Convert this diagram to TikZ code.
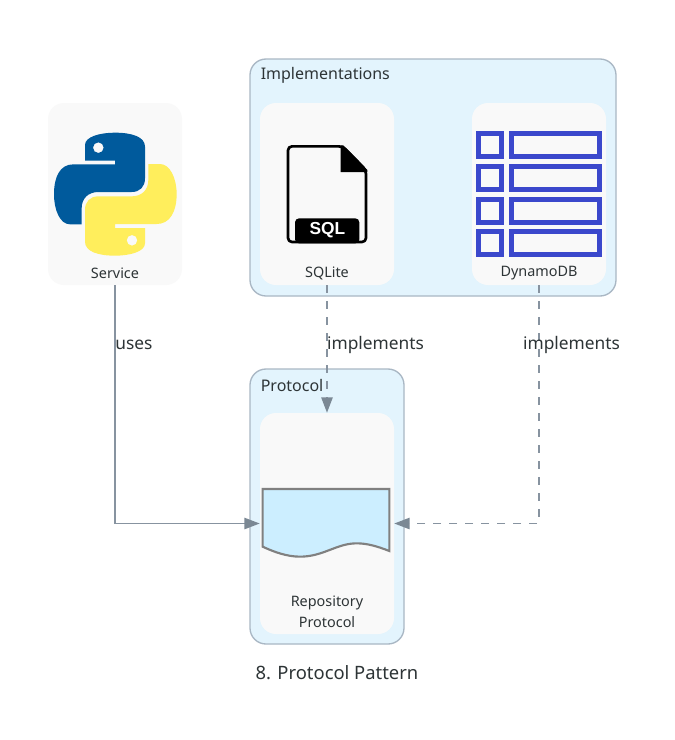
\documentclass[tikz,border=0pt]{standalone}
\usepackage{fontspec}
\setmainfont{Noto Sans}
\newfontfamily\iconfont{Liberation Sans}
\usetikzlibrary{arrows.meta}
\definecolor{clusterfill}{HTML}{E3F4FD}
\definecolor{clusterline}{HTML}{A9B7C4}
\definecolor{nodefill}{HTML}{F9F9F9}
\definecolor{edgecol}{HTML}{8793A0}
\definecolor{tipcol}{HTML}{7B8894}
\definecolor{textcol}{HTML}{2D3436}
\definecolor{pyblue}{HTML}{005A9C}
\definecolor{pyyellow}{HTML}{FFEE5C}
\definecolor{gridblue}{HTML}{3B48CC}
\definecolor{docfill}{HTML}{CCEEFF}
\definecolor{docline}{HTML}{808080}
\tikzset{
  cluster/.style={draw=clusterline,fill=clusterfill,line width=1pt,rounded corners=12pt,inner sep=0pt},
  card/.style={fill=nodefill,rounded corners=12pt,inner sep=0pt,minimum width=100.5pt},
  cardlabel/.style={text=textcol,font=\fontsize{10.8}{15.75}\selectfont,align=center,inner sep=0pt},
  clusterlabel/.style={text=textcol,font=\fontsize{12}{14}\selectfont,inner sep=0pt,anchor=west},
  edgelabel/.style={text=textcol,font=\fontsize{13}{16}\selectfont,inner sep=0pt},
  titlelabel/.style={text=textcol,font=\fontsize{13.8}{16}\selectfont,inner sep=0pt},
  link/.style={draw=edgecol,line width=1.1pt,-{Triangle[length=11.5pt,width=8.5pt,color=tipcol]}},
  dashlink/.style={link,dash pattern=on 6pt off 6pt},
}
\begin{document}
\begin{tikzpicture}[x=.75pt,y=-.75pt]
\useasboundingbox[fill=white] (0,0) rectangle (675,740);

% clusters
\node[cluster,minimum width=274.5pt,minimum height=177.75pt] (impl) at (433,177.5) {};
\node[cluster,minimum width=115.5pt,minimum height=206.25pt] (proto) at (327,506.5) {};
\node[clusterlabel] (impllabel) at (260.5,75) {Implementations};
\node[clusterlabel] (protolabel) at (260.5,385.5) {Protocol};

% cards
\node[card,minimum height=136.5pt] (service) at (115,194) {};
\node[card,minimum height=136.5pt] (sqlite) at (327,194) {};
\node[card,minimum height=136.5pt] (dynamo) at (539,194) {};
\node[card,minimum height=165.75pt] (repo) at (327,523.5) {};

% python logo (coordinates in thirds of a pixel)
\begin{scope}[shift={(40,95)},x=.25pt,y=-.25pt]
  \fill[pyblue,even odd rule]
    (135,197) -- (135,150) .. controls (135,125) and (180,113) .. (225,113)
    .. controls (275,113) and (315,125) .. (315,155) -- (315,250)
    .. controls (315,275) and (300,291) .. (275,291) -- (175,291)
    .. controls (145,291) and (125,310) .. (125,340) -- (125,388) -- (90,388)
    .. controls (60,388) and (42,345) .. (42,298)
    .. controls (42,245) and (60,208) .. (100,208) -- (225,208) -- (225,197) -- cycle
    (175,158) circle[radius=16];
  \fill[pyyellow,even odd rule]
    (315,399) -- (315,445) .. controls (315,470) and (270,482) .. (225,482)
    .. controls (175,482) and (135,470) .. (135,440) -- (135,345)
    .. controls (135,320) and (150,304) .. (175,304) -- (275,304)
    .. controls (305,304) and (325,285) .. (325,255) -- (325,207) -- (360,207)
    .. controls (390,207) and (410,250) .. (410,297)
    .. controls (410,350) and (390,387) .. (350,387) -- (225,387) -- (225,399) -- cycle
    (276,436) circle[radius=16];
\end{scope}

% SQL file icon
\begin{scope}[shift={(250,50)},x=.25pt,y=-.25pt]
  \draw[black,line width=2pt,line join=round,rounded corners=3pt]
    (114,289) -- (278,289) -- (348,360) -- (348,576) -- (114,576) -- cycle;
  \fill[black] (272,286) -- (280,286) -- (352,360) -- (352,366) -- (272,366) -- cycle;
  \fill[black,rounded corners=3pt] (135,580) -- (135,505) -- (328,505) -- (328,580) -- cycle;
  \node[text=white,inner sep=0pt,font=\iconfont\bfseries\fontsize{13}{13}\selectfont] (sqltext) at (232,541) {SQL};
\end{scope}

% table icon
\begin{scope}[shift={(460,90)},x=.25pt,y=-.25pt]
  \foreach \rowtop in {124,222,320,418} {
    \draw[gridblue,line width=3.75pt] (55.5,\rowtop+7.5) rectangle (124.5,\rowtop+76.5);
    \draw[gridblue,line width=3.75pt] (154.5,\rowtop+7.5) rectangle (419.5,\rowtop+76.5);
  }
\end{scope}

% protocol document icon
\begin{scope}[shift={(240,470)},x=.25pt,y=-.25pt]
  \draw[fill=docfill,draw=docline,line width=1.6pt]
    (68,57) -- (448,57) -- (448,243)
    .. controls (410,228) and (380,220) .. (350,220)
    .. controls (290,220) and (250,260) .. (180,260)
    .. controls (140,260) and (100,245) .. (68,230) -- cycle;
\end{scope}

% card labels
\node[cardlabel] (servicelabel) at (115,273) {Service};
\node[cardlabel] (sqlitelabel) at (327,273) {SQLite};
\node[cardlabel] (dynamolabel) at (539,273) {DynamoDB};
\node[cardlabel] (repolabel) at (327,611.5) {Repository\\Protocol};

% connectors
\draw[link] (service.south) |- (repo.west);
\draw[dashlink] (sqlite.south) -- (repo.north);
\draw[dashlink] (dynamo.south) |- (repo.east);

% edge labels
\node[edgelabel] (useslabel) at (134,345) {uses};
\node[edgelabel] (impl1label) at (375.5,345) {implements};
\node[edgelabel] (impl2label) at (571.5,345) {implements};

\node[titlelabel] (title) at (337,673) {8. Protocol Pattern};
\end{tikzpicture}
\end{document}
